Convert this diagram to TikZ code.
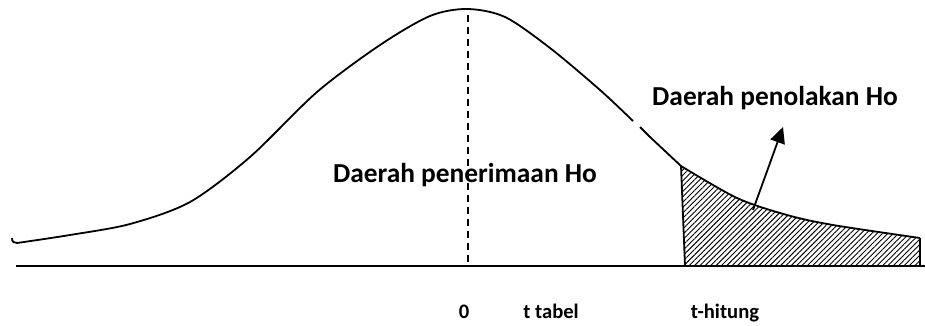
\documentclass[tikz,border=0pt]{standalone}
\usepackage{fontspec}
\setmainfont{Carlito}
\usetikzlibrary{arrows.meta,patterns.meta}

\begin{document}
\begin{tikzpicture}[x=0.5pt,y=-0.5pt,line width=0.9pt,
  lbl/.style={font=\fontsize{13.7}{16}\selectfont\bfseries},
  axislbl/.style={anchor=base,font=\fontsize{10.3}{12}\selectfont\bfseries}]
\useasboundingbox (0,0) rectangle (925,326);

% Hatched rejection area
\fill[pattern={Lines[angle=45,distance=1.9pt,line width=0.45pt]}]
  (685,266) -- (681,166) -- plot[smooth] coordinates {(681,166)(737,198)(787,215)(833,225)(920,238)}
  -- (920,266) -- cycle;

% Curve
\draw (12,238) .. controls (12,242) and (14,243) .. (17,243);
\draw plot[smooth] coordinates {
  (17,243)(70,235)(130,224)(190,202)(250,157)(317,92)(380,45)(430,16)(467,9)
  (505,17)(550,48)(600,90)(633,121)
};
\draw (640,127) -- (650,137) -- (681,166);
\draw plot[smooth] coordinates {(681,166)(737,198)(787,215)(833,225)(920,238)};
\draw (681,166) -- (685,266);
\draw (920,238) -- (920,266);

% Axis and mean
\draw (16,266) -- (925,266);
\draw[dash pattern=on 3.5pt off 2.5pt] (468,15) -- (468,266);

% Labels
\node[lbl] (accept) at (465,175) {Daerah penerimaan Ho};
\node[lbl] (reject) at (775,98) {Daerah penolakan Ho};
\node[axislbl] (zero) at (464,318) {0};
\node[axislbl] (ttab) at (551,318) {t tabel};
\node[axislbl] (thit) at (725,318) {t-hitung};

% Arrow
\coordinate (tail) at (753,210);
\coordinate (tip) at (783,127);
\draw[-{Triangle[length=8pt,width=7.5pt]}] (tail) -- (tip);
\end{tikzpicture}
\end{document}
